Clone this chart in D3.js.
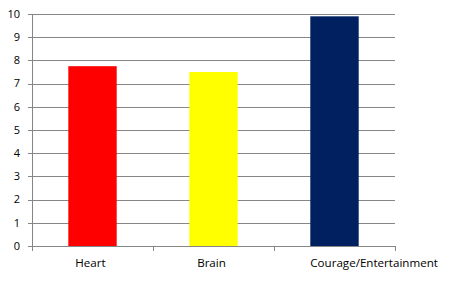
<!DOCTYPE html>
<html>
<head>
<meta charset="utf-8">
<script src="https://cdn.jsdelivr.net/npm/d3@7"></script>
<style>
  body { margin: 0; background: #fff; }
  text { font-family: "Open Sans", "Liberation Sans", sans-serif; font-size: 11px; fill: #000; }
  .xlab { font-size: 11.6px; }
</style>
</head>
<body>
<div id="chart"></div>
<script>
var categories = ["Heart", "Brain", "Courage/Entertainment"];
var values = [7.75, 7.5, 9.9];
var barColors = ["#ff0000", "#ffff00", "#002060"];
var yTicks = [0, 1, 2, 3, 4, 5, 6, 7, 8, 9, 10];

var w = 452, h = 291;
var margin = { top: 14, right: 57, bottom: 45, left: 32 };
var gridColor = "#868686";

var svg = d3.select("#chart")
    .append("svg")
    .attr("width", w)
    .attr("height", h);

var x = d3.scaleBand()
    .domain(categories)
    .range([margin.left, w - margin.right]);

var y = d3.scaleLinear()
    .domain([0, 10])
    .range([h - margin.bottom, margin.top]);

// gridlines with small outside ticks
svg.append("g")
    .selectAll("line")
    .data(yTicks)
    .enter()
    .append("line")
    .attr("x1", margin.left - 4)
    .attr("x2", w - margin.right)
    .attr("y1", (d) => Math.round(y(d)) + 0.5)
    .attr("y2", (d) => Math.round(y(d)) + 0.5)
    .style("stroke", gridColor)
    .style("stroke-width", 1);

// y axis line
svg.append("line")
    .attr("x1", margin.left + 0.5)
    .attr("x2", margin.left + 0.5)
    .attr("y1", Math.round(y(10)))
    .attr("y2", Math.round(y(0)) + 5)
    .style("stroke", gridColor);

// category separator ticks under the axis
var sepX = [margin.left].concat(categories.map((c) => x(c) + x.bandwidth()));
svg.append("g")
    .selectAll("line")
    .data(sepX)
    .enter()
    .append("line")
    .attr("x1", (d) => Math.round(d) + 0.5)
    .attr("x2", (d) => Math.round(d) + 0.5)
    .attr("y1", Math.round(y(0)))
    .attr("y2", Math.round(y(0)) + 5)
    .style("stroke", gridColor);

// bars
var barW = x.bandwidth() * 0.4;
var barX = (c) => x(c) + (x.bandwidth() - barW) / 2;
svg.append("g")
    .selectAll("rect")
    .data(values)
    .enter()
    .append("rect")
    .attr("x", (d, i) => barX(categories[i]))
    .attr("y", (d) => y(d))
    .attr("width", barW)
    .attr("height", (d) => y(0) - y(d))
    .style("fill", (d, i) => barColors[i]);

// y labels
svg.append("g")
    .selectAll("text")
    .data(yTicks)
    .enter()
    .append("text")
    .attr("x", 20)
    .attr("y", (d) => y(d))
    .attr("dy", "0.35em")
    .attr("text-anchor", "end")
    .text((d) => d);

// x labels - a label wider than its band starts at the bar's left edge
svg.append("g")
    .selectAll("text")
    .data(categories)
    .enter()
    .append("text")
    .attr("class", "xlab")
    .attr("y", h - margin.bottom + 17)
    .attr("dy", "0.35em")
    .text((d) => d)
    .each(function (d) {
        var tw = this.getComputedTextLength();
        var t = d3.select(this);
        if (tw > x.bandwidth()) {
            t.attr("x", barX(d)).attr("text-anchor", "start");
        } else {
            t.attr("x", x(d) + x.bandwidth() / 2 - 2).attr("text-anchor", "middle");
        }
    });
</script>
</body>
</html>
